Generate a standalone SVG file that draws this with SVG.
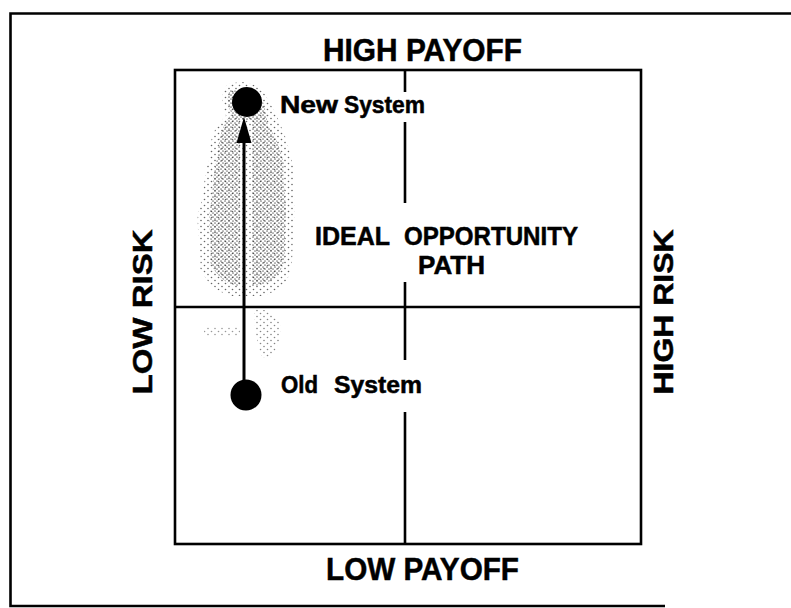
<svg xmlns="http://www.w3.org/2000/svg" width="791" height="608" viewBox="0 0 791 608">
<style>
.t{font-family:"Liberation Sans",Arial,Helvetica,sans-serif;font-weight:bold;fill:#000;stroke:#000;stroke-width:0.5}
.ln{stroke:#000;fill:none;stroke-width:2.6}
</style>
<defs>
<pattern id="dots" patternUnits="userSpaceOnUse" width="4" height="4">
<circle cx="1" cy="1" r="0.85" fill="#222"/>
<circle cx="3" cy="3" r="0.85" fill="#222"/>
</pattern>
<pattern id="sparse" patternUnits="userSpaceOnUse" width="7" height="6">
<circle cx="1.5" cy="1.5" r="0.8" fill="#333"/>
<circle cx="5" cy="4.5" r="0.8" fill="#333"/>
</pattern>
</defs>
<rect width="791" height="608" fill="#fff"/>
<g id="frame">
<path d="M791,13.5 H10.5 V606 H665" class="ln" stroke-width="2.2"/>
</g>
<g id="shading">
<path d="M228,84 C220,92 222,106 226,116 C216,124 208,140 210,158 C202,175 206,195 198,212 C196,230 202,250 200,268 C206,282 216,292 232,296 L262,296 C276,292 286,286 290,272 C294,256 292,240 294,224 C296,206 292,188 294,170 C290,152 286,136 280,124 C276,112 270,104 266,96 C262,88 252,82 240,82 Z" fill="url(#sparse)" opacity="0.75"/>
<path d="M230,90 C226,98 228,108 232,114 C222,124 218,140 218,156 C212,172 214,190 210,208 C208,226 212,244 210,262 C216,276 226,284 238,286 L240,286 L240,120 L252,120 L252,286 C266,286 280,278 284,262 C286,246 284,230 286,214 C286,196 282,180 284,164 C280,148 276,136 268,126 C266,112 264,100 258,92 Z" fill="url(#dots)" opacity="0.6"/>
<path d="M254,310 C264,308 276,312 280,324 C282,336 278,348 270,358 L262,358 C258,346 254,330 254,310 Z" fill="url(#sparse)" opacity="0.6"/>
<path d="M204,327 L240,327 L240,336 L204,336 Z" fill="url(#sparse)" opacity="0.5"/>
</g>
<g id="quadrants">
<rect x="175" y="70" width="466" height="474" class="ln"/>
<line x1="175" y1="307" x2="641" y2="307" class="ln"/>
<path d="M405,70 V92 M405,122 V203 M405,282 V360 M405,412 V544" class="ln"/>
</g>
<g id="connectors">
<line x1="244" y1="381" x2="244" y2="139" stroke="#000" stroke-width="3"/>
<polygon points="244,117 236.5,143 251.5,143" fill="#000"/>
</g>
<g id="old-system">
<circle cx="246" cy="395" r="15.5" fill="#000"/>
<text class="t" x="281" y="393" font-size="23"><tspan x="281" textLength="37" lengthAdjust="spacingAndGlyphs">Old</tspan><tspan x="334" textLength="88" lengthAdjust="spacingAndGlyphs">System</tspan></text>
</g>
<g id="new-system">
<circle cx="247" cy="102" r="15" fill="#000"/>
<text class="t" x="280" y="113" font-size="23"><tspan x="280" textLength="58" lengthAdjust="spacingAndGlyphs">New</tspan><tspan x="344" textLength="81" lengthAdjust="spacingAndGlyphs">System</tspan></text>
</g>
<g id="labels">
<text class="t" x="422.5" y="61" font-size="32" text-anchor="middle" textLength="199" lengthAdjust="spacingAndGlyphs">HIGH PAYOFF</text>
<text class="t" x="422.5" y="580" font-size="32" text-anchor="middle" textLength="193" lengthAdjust="spacingAndGlyphs">LOW PAYOFF</text>
<text class="t" transform="translate(152,312) rotate(-90)" font-size="28" text-anchor="middle" textLength="165" lengthAdjust="spacingAndGlyphs">LOW RISK</text>
<text class="t" transform="translate(673,312) rotate(-90)" font-size="28" text-anchor="middle" textLength="165" lengthAdjust="spacingAndGlyphs">HIGH RISK</text>
<text class="t" x="315" y="245" font-size="25"><tspan x="315" textLength="75" lengthAdjust="spacingAndGlyphs">IDEAL</tspan><tspan x="404" textLength="174" lengthAdjust="spacingAndGlyphs">OPPORTUNITY</tspan></text>
<text class="t" x="418" y="274" font-size="25" textLength="67" lengthAdjust="spacingAndGlyphs">PATH</text>
</g>
</svg>
